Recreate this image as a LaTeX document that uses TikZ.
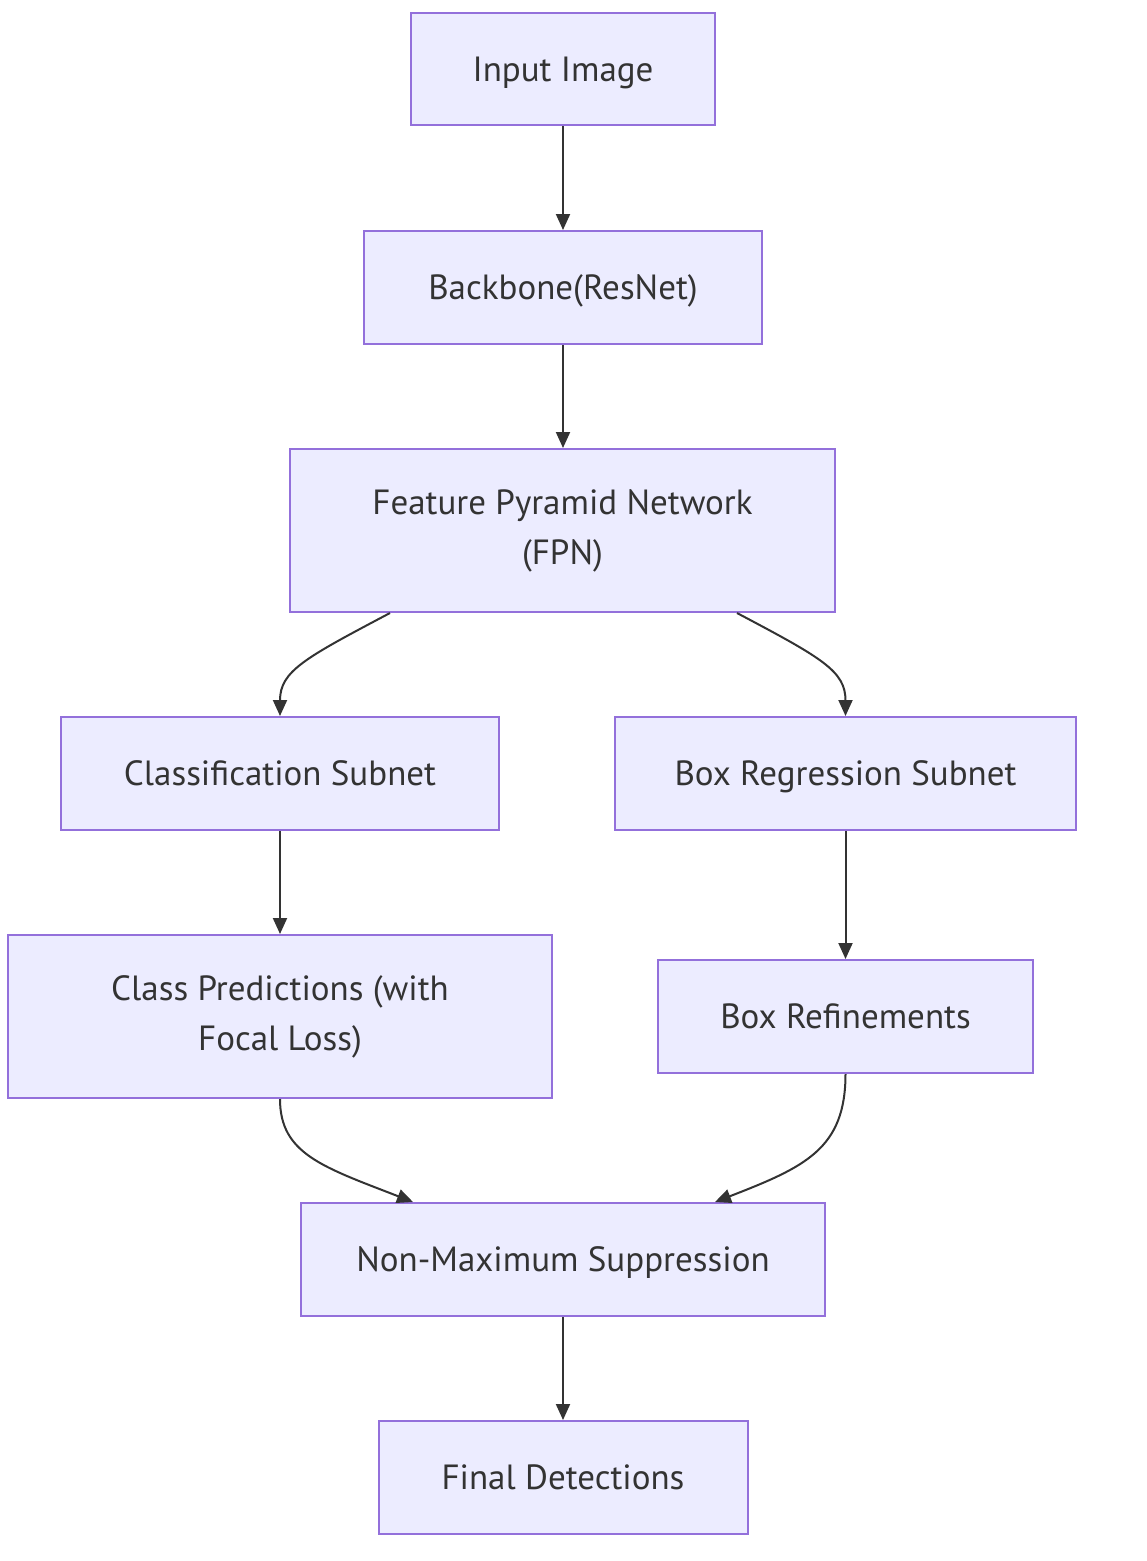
\documentclass[tikz,border=0pt]{standalone}
\usepackage{fontspec}
\setmainfont{PT Sans}
\usetikzlibrary{arrows.meta}
\definecolor{nodefill}{HTML}{ECECFF}
\definecolor{nodeline}{HTML}{9370DB}
\definecolor{txt}{HTML}{333333}
\begin{document}
\begin{tikzpicture}[x=1pt,y=-1pt,
  box/.style={draw=nodeline,fill=nodefill,line width=2pt,inner sep=0pt,
    text=txt,align=center,font=\fontsize{35}{50}\selectfont},
  one/.style={text height=30pt,text depth=6pt},
  conn/.style={draw=txt,line width=2pt,-{Triangle[length=16pt,width=14pt]}}]
\useasboundingbox (0,0) rectangle (1147,1561);
\node[box,one,minimum width=304pt,minimum height=112pt] (inp) at (563,69) {Input Image};
\node[box,one,minimum width=398pt,minimum height=113pt] (bb) at (563,287.5) {Backbone(ResNet)};
\node[box,minimum width=545pt,minimum height=163pt] (fpn) at (562.5,530.5) {Feature Pyramid Network\\(FPN)};
\node[box,one,minimum width=438pt,minimum height=113pt] (cls) at (280,773.5) {Classification Subnet};
\node[box,one,minimum width=461pt,minimum height=113pt] (reg) at (845.5,773.5) {Box Regression Subnet};
\node[box,minimum width=544pt,minimum height=163pt] (cp) at (280,1016.5) {Class Predictions (with\\Focal Loss)};
\node[box,one,minimum width=375pt,minimum height=113pt] (br) at (845.5,1016.5) {Box Refinements};
\node[box,one,minimum width=524pt,minimum height=113pt] (nms) at (563,1259.5) {Non-Maximum Suppression};
\node[box,one,minimum width=369pt,minimum height=113pt] (fin) at (563,1477.5) {Final Detections};
\draw[conn] (inp.south) -- (bb.north);
\draw[conn] (bb.south) -- (bb.south |- fpn.north);
\draw[conn] ([xshift=-172.5pt]fpn.south) .. controls ++(-85,45) and ++(0,-45) .. (cls.north);
\draw[conn] ([xshift=174.5pt]fpn.south) .. controls ++(85,45) and ++(0,-45) .. (reg.north);
\draw[conn] (cls.south) -- (cp.north);
\draw[conn] (reg.south) -- (br.north);
\draw[conn] (cp.south) .. controls ++(0,55) and ++(-90,-35) .. ([xshift=-150pt]nms.north);
\draw[conn] (br.south) .. controls ++(0,75) and ++(90,-35) .. ([xshift=152pt]nms.north);
\draw[conn] (nms.south) -- (fin.north);
\end{tikzpicture}
\end{document}
